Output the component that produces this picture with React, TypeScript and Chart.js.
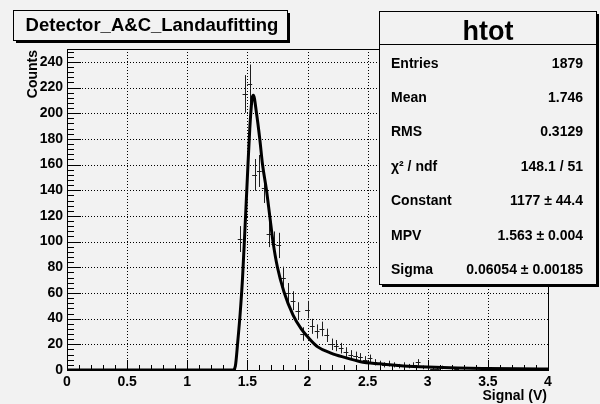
import React, { useEffect, useRef } from "react";
import { Chart, registerables } from "chart.js";

Chart.register(...registerables);

// ---------- data ----------
const binWidth = 0.04;
const binCenters = [
  1.44, 1.48, 1.52, 1.56, 1.6, 1.64, 1.68, 1.72, 1.76, 1.8, 1.84, 1.88, 1.92, 1.96,
  2.0, 2.04, 2.08, 2.12, 2.16, 2.2, 2.24, 2.28, 2.32, 2.36, 2.4, 2.44, 2.48, 2.52,
  2.56, 2.6, 2.64, 2.68, 2.72, 2.76, 2.8, 2.84, 2.88, 2.92, 2.96, 3.0, 3.04, 3.08,
  3.12, 3.24, 3.48,
];
const binCounts = [
  102, 215, 223, 152, 155, 142, 106, 98, 97, 72, 60, 54, 46, 28,
  47, 34, 30, 32, 27, 20, 19, 17, 14, 12, 11, 10, 8, 9,
  6, 5, 4, 5, 4, 3, 4, 3, 4, 6, 2, 2, 1, 1,
  2, 1, 1,
];

const fitX = [
  0, 1.38, 1.4, 1.42, 1.44, 1.46, 1.48, 1.5, 1.52, 1.54, 1.55, 1.576, 1.603, 1.626,
  1.659, 1.686, 1.713, 1.75, 1.804, 1.879, 1.948, 2.0, 2.085, 2.2, 2.3, 2.44, 2.6,
  2.8, 3.0, 3.25, 3.5, 3.75, 4.0,
];
const fitY = [
  0, 0, 3, 22, 44, 72, 110, 150, 188, 212, 214, 200, 180, 160,
  140, 120, 100, 80, 61, 43, 32, 26, 18, 13, 10, 6.5, 4.8,
  3.2, 2.3, 1.6, 1.2, 0.9, 0.7,
];

const xTickValues = [0, 0.5, 1, 1.5, 2, 2.5, 3, 3.5, 4];
const xMinorStep = 0.1;
const yTickValues = [0, 20, 40, 60, 80, 100, 120, 140, 160, 180, 200, 220, 240];
const yMinorStep = 4;

const titleText = "Detector_A&C_Landaufitting";
const statsTitle = "htot";
const statLabels = ["Entries", "Mean", "RMS", "\u03C7\u00B2 / ndf", "Constant", "MPV", "Sigma"];
const statValues = ["1879", "1.746", "0.3129", "148.1 / 51", "1177 \u00B1 44.4", "1.563 \u00B1 0.004", "0.06054 \u00B1 0.00185"];

const xTitle = "Signal (V)";
const yTitle = "Counts";

// ---------- styles ----------
const BG = "#f2f2f2";
const FONT = "'Liberation Sans', Arial, Helvetica, sans-serif";

const bgPlugin = {
  id: "bg",
  beforeDraw(chart: any) {
    const { ctx, width, height } = chart;
    ctx.save();
    ctx.fillStyle = BG;
    ctx.fillRect(0, 0, width, height);
    ctx.restore();
  },
};

const framePlugin = {
  id: "frame",
  beforeDatasetsDraw(chart: any) {
    const { ctx, chartArea: a, scales } = chart;
    const xs = scales.x;
    const ys = scales.y;
    ctx.save();
    // dotted grid
    ctx.strokeStyle = "#000";
    ctx.lineWidth = 1;
    ctx.setLineDash([1, 2]);
    xTickValues.forEach((v) => {
      if (v <= xs.min || v >= xs.max) return;
      const px = Math.round(xs.getPixelForValue(v)) + 0.5;
      ctx.beginPath();
      ctx.moveTo(px, a.top);
      ctx.lineTo(px, a.bottom);
      ctx.stroke();
    });
    yTickValues.forEach((v) => {
      if (v <= ys.min || v >= ys.max) return;
      const py = Math.round(ys.getPixelForValue(v)) + 0.5;
      ctx.beginPath();
      ctx.moveTo(a.left, py);
      ctx.lineTo(a.right, py);
      ctx.stroke();
    });
    ctx.setLineDash([]);
    // frame
    ctx.strokeStyle = "#000";
    ctx.lineWidth = 1;
    ctx.strokeRect(Math.round(a.left) + 0.5, Math.round(a.top) + 0.5, Math.round(a.width), Math.round(a.height));
    // ticks x
    const nx = Math.round((xs.max - xs.min) / xMinorStep);
    for (let i = 0; i <= nx; i++) {
      const v = xs.min + i * xMinorStep;
      const major = xTickValues.some((t) => Math.abs(t - v) < 1e-6);
      const px = Math.round(xs.getPixelForValue(v)) + 0.5;
      ctx.beginPath();
      ctx.moveTo(px, a.bottom);
      ctx.lineTo(px, a.bottom - (major ? 10 : 5));
      ctx.stroke();
    }
    // ticks y
    const ny = Math.round((ys.max - ys.min) / yMinorStep);
    for (let i = 0; i <= ny; i++) {
      const v = ys.min + i * yMinorStep;
      if (v > ys.max) break;
      const major = yTickValues.some((t) => Math.abs(t - v) < 1e-6);
      const py = Math.round(ys.getPixelForValue(v)) + 0.5;
      ctx.beginPath();
      ctx.moveTo(a.left, py);
      ctx.lineTo(a.left + (major ? 14 : 7), py);
      ctx.stroke();
    }
    // error bars of the histogram
    ctx.save();
    ctx.beginPath();
    ctx.rect(a.left, a.top, a.width, a.height);
    ctx.clip();
    ctx.strokeStyle = "#1e1e1e";
    ctx.lineWidth = 1;
    binCenters.forEach((c, i) => {
      const n = binCounts[i];
      if (!n) return;
      const e = Math.sqrt(n);
      const px = Math.round(xs.getPixelForValue(c)) + 0.5;
      const py = Math.round(ys.getPixelForValue(n)) + 0.5;
      const x0 = xs.getPixelForValue(c - binWidth / 2);
      const x1 = xs.getPixelForValue(c + binWidth / 2);
      const y0 = ys.getPixelForValue(n - e);
      const y1 = ys.getPixelForValue(n + e);
      ctx.beginPath();
      ctx.moveTo(x0, py);
      ctx.lineTo(x1, py);
      ctx.moveTo(px, y0);
      ctx.lineTo(px, y1);
      ctx.stroke();
    });
    ctx.restore();
    ctx.restore();
  },
};

function shadowBox(ctx: any, x: number, y: number, w: number, h: number) {
  ctx.fillStyle = "#000";
  ctx.fillRect(x + 3, y + 3, w, h);
  ctx.fillStyle = BG;
  ctx.fillRect(x, y, w, h);
  ctx.strokeStyle = "#000";
  ctx.lineWidth = 1;
  ctx.strokeRect(x + 0.5, y + 0.5, w, h);
}

const labelsPlugin = {
  id: "labels",
  afterDraw(chart: any) {
    const { ctx, chartArea: a } = chart;
    ctx.save();
    // axis titles
    ctx.fillStyle = "#000";
    ctx.font = `bold 14px ${FONT}`;
    ctx.textAlign = "right";
    ctx.textBaseline = "alphabetic";
    ctx.fillText(xTitle, a.right - 1, 400);
    ctx.save();
    ctx.translate(37, a.top + 1);
    ctx.rotate(-Math.PI / 2);
    ctx.textAlign = "right";
    ctx.fillText(yTitle, 0, 0);
    ctx.restore();

    // title box
    shadowBox(ctx, 13, 10, 274, 30);
    ctx.fillStyle = "#000";
    ctx.font = `bold 18.5px ${FONT}`;
    ctx.textAlign = "center";
    ctx.fillText(titleText, 152, 31);

    // stats box
    const sx = 379, sy = 11, sw = 217, sh = 273;
    shadowBox(ctx, sx, sy, sw, sh);
    ctx.beginPath();
    ctx.moveTo(sx, 44.5);
    ctx.lineTo(sx + sw, 44.5);
    ctx.stroke();
    ctx.fillStyle = "#000";
    ctx.font = `bold 27px ${FONT}`;
    ctx.textAlign = "center";
    ctx.fillText(statsTitle, 488, 40);
    ctx.font = `bold 14px ${FONT}`;
    statLabels.forEach((lab, i) => {
      const by = 67.5 + i * 34.4;
      ctx.textAlign = "left";
      ctx.fillText(lab, 391, by);
      ctx.textAlign = "right";
      ctx.fillText(statValues[i], 583, by);
    });
    ctx.restore();
  },
};

export default function App() {
  const canvasRef = useRef<HTMLCanvasElement | null>(null);

  useEffect(() => {
    if (!canvasRef.current) return;
    const chart = new Chart(canvasRef.current, {
      type: "scatter",
      data: {
        datasets: [
          {
            type: "line",
            label: "fit",
            data: fitX.map((x, i) => ({ x, y: fitY[i] })),
            borderColor: "#000",
            borderWidth: 3,
            pointRadius: 0,
            fill: false,
            cubicInterpolationMode: "monotone",
          } as any,
        ],
      },
      options: {
        animation: false,
        responsive: true,
        maintainAspectRatio: false,
        layout: { padding: { top: 49, right: 52, left: 0, bottom: 0 } },
        plugins: { legend: { display: false }, tooltip: { enabled: false } },
        scales: {
          x: {
            type: "linear",
            min: 0,
            max: 4,
            afterFit(s: any) {
              s.height = 34;
            },
            afterBuildTicks(s: any) {
              s.ticks = xTickValues.map((v) => ({ value: v }));
            },
            grid: { display: false, drawTicks: false },
            border: { display: false },
            ticks: {
              padding: 4,
              color: "#000",
              autoSkip: false,
              maxRotation: 0,
              font: { family: FONT, size: 14, weight: "bold" },
              callback: (v: any) => String(v),
            },
          },
          y: {
            type: "linear",
            min: 0,
            max: 250,
            afterFit(s: any) {
              s.width = 67;
            },
            afterBuildTicks(s: any) {
              s.ticks = yTickValues.map((v) => ({ value: v }));
            },
            grid: { display: false, drawTicks: false },
            border: { display: false },
            ticks: {
              padding: 4,
              color: "#000",
              autoSkip: false,
              font: { family: FONT, size: 14, weight: "bold" },
              callback: (v: any) => String(v),
            },
          },
        },
      } as any,
      plugins: [bgPlugin, framePlugin, labelsPlugin],
    });
    return () => chart.destroy();
  }, []);

  return (
    <div style={{ position: "fixed", left: 0, top: 0, width: 600, height: 404, background: BG }}>
      <canvas ref={canvasRef} />
    </div>
  );
}
